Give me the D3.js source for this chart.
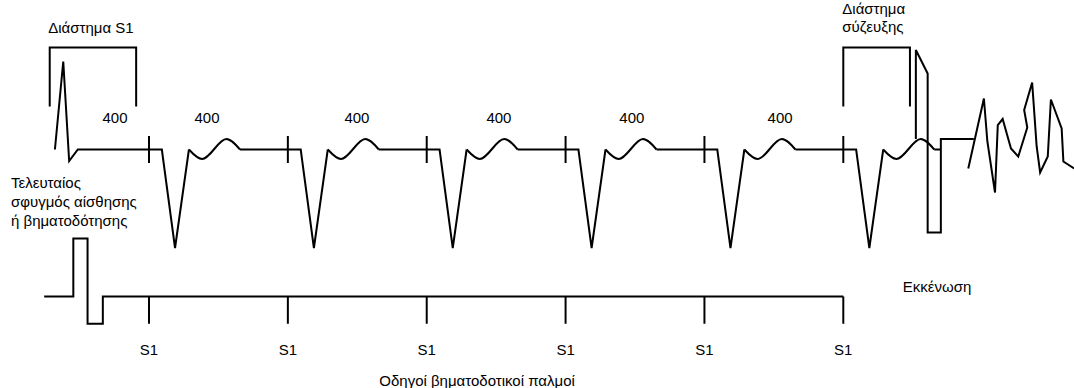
<!DOCTYPE html>
<html>
<head>
<meta charset="utf-8">
<script src="https://cdn.jsdelivr.net/npm/d3@7"></script>
<style>
  html, body { margin: 0; padding: 0; background: #fff; }
  svg { display: block; }
  text { font-family: "Liberation Sans", Arial, Helvetica, sans-serif; font-size: 15px; fill: #000; }
</style>
</head>
<body>
<svg id="chart" width="1074" height="388"></svg>
<script>
// ---------------- data (time in ms from first S1, amplitude in arbitrary units) ----------------
const s1Times = [0, 400, 800, 1200, 1600, 2000];
const s1Labels = ["S1", "S1", "S1", "S1", "S1", "S1"];
const intervalLabels = ["400", "400", "400", "400", "400", "400"];
const intervalLabelTimes = [-98, 167, 599, 1008, 1391, 1818];

// last sensed / paced beat (time, amplitude)
const lastBeat = [[-271, 0], [-247, 0.88], [-230, -0.115], [-205, 0]];
// paced QRS (offset from S1, amplitude)
const pacedQRS = [[37, 0], [75, -0.985], [115, 0]];
// T wave (offset from S1, amplitude)
const tWave = [[115, 0], [153, -0.095], [223, 0.105], [262, 0]];
// shock discharge on ECG
const shock = [[2209, 0.105], [2209, 0.995], [2243, 0.76], [2243, -0.83], [2281, -0.83], [2281, 0.105], [2376, 0.105]];
// induced fibrillation
const fibrillation = [[2360, -0.19], [2405, 0.51], [2415, 0.08], [2437, -0.43], [2445, 0.245], [2459, 0.305],
  [2483, 0.01], [2504, -0.07], [2530, 0.22], [2521, 0.395], [2544, 0.67], [2557, 0.03], [2567, -0.23],
  [2589, -0.07], [2598, 0.50], [2629, 0.21], [2634, -0.12], [2665, -0.19]];
// pacing channel (time, level)
const pacingChannel = [[-302, 0], [-218, 0], [-218, 1], [-177, 1], [-177, -0.47], [-133, -0.47], [-133, 0], [2000, 0]];
const pacingTickDepth = -0.47;
// brackets (start, end)
const s1Bracket = [-286, -37];
const couplingBracket = [2000, 2192];

// ---------------- drawing ----------------
const svg = d3.select("#chart");
const x = d3.scaleLinear().domain([0, 2000]).range([149, 843.3]);
const yTop = d3.scaleLinear().domain([-1, 1]).range([249.5, 49.5]);
const yBot = d3.scaleLinear().domain([0, 1]).range([296.5, 238.5]);

const lineTop = d3.line().x(d => x(d[0])).y(d => yTop(d[1]));
const smoothTop = d3.line().x(d => x(d[0])).y(d => yTop(d[1])).curve(d3.curveMonotoneX);
const lineBot = d3.line().x(d => x(d[0])).y(d => yBot(d[1]));

const g = svg.append("g")
  .attr("fill", "none").attr("stroke", "#000").attr("stroke-width", 2)
  .attr("stroke-linejoin", "miter");

// ECG linear segments (baseline + QRS) and T waves
let prevEnd = null;
s1Times.forEach((s, i) => {
  let seg = [];
  if (i === 0) seg = lastBeat.slice();
  else seg.push([prevEnd, 0]);
  seg.push([s, 0]);
  pacedQRS.forEach(p => seg.push([s + p[0], p[1]]));
  g.append("path").attr("d", lineTop(seg));
  g.append("path").attr("d", smoothTop(tWave.map(p => [s + p[0], p[1]])));
  prevEnd = s + tWave[tWave.length - 1][0];
});
// tail to shock
g.append("path").attr("d", lineTop([[prevEnd, 0], [shock[4][0], 0]]));

// S1 ticks on ECG
g.selectAll(".tickTop").data(s1Times).enter().append("line")
  .attr("x1", d => x(d)).attr("x2", d => x(d))
  .attr("y1", yTop(0.135)).attr("y2", yTop(-0.135));

// shock + fibrillation
g.append("path").attr("d", lineTop(shock));
g.append("path").attr("d", lineTop(fibrillation));

// brackets
[s1Bracket, couplingBracket].forEach(b => {
  g.append("path").attr("d", lineTop([[b[0], 0.43], [b[0], 1.02], [b[1], 1.02], [b[1], 0.43]]));
});

// pacing channel
g.append("path").attr("d", lineBot(pacingChannel));
g.selectAll(".tickBot").data(s1Times).enter().append("line")
  .attr("x1", d => x(d)).attr("x2", d => x(d))
  .attr("y1", yBot(0)).attr("y2", yBot(pacingTickDepth));

// ---------------- text ----------------
const t = svg.append("g");
t.append("text").attr("x", x((s1Bracket[0] + s1Bracket[1]) / 2) - 2).attr("y", 33)
  .attr("text-anchor", "middle").text("Διάστημα S1");
t.selectAll(".lbl400").data(intervalLabels).enter().append("text")
  .attr("x", (d, i) => x(intervalLabelTimes[i])).attr("y", 123)
  .attr("text-anchor", "middle").text(d => d);
const left = t.append("text").attr("x", 11).attr("y", 188);
["Τελευταίος", "σφυγμός αίσθησης", "ή βηματοδότησης"].forEach((s, i) => {
  left.append("tspan").attr("x", 11).attr("dy", i === 0 ? 0 : 19).text(s);
});
const cpl = t.append("text").attr("x", x(couplingBracket[0]) - 1).attr("y", 14);
["Διάστημα", "σύζευξης"].forEach((s, i) => {
  cpl.append("tspan").attr("x", x(couplingBracket[0]) - 1).attr("dy", i === 0 ? 0 : 18).text(s);
});
t.selectAll(".s1").data(s1Labels).enter().append("text")
  .attr("x", (d, i) => x(s1Times[i])).attr("y", 355)
  .attr("text-anchor", "middle").text(d => d);
t.append("text").attr("x", x(945)).attr("y", 386).attr("text-anchor", "middle")
  .text("Οδηγοί βηματοδοτικοί παλμοί");
t.append("text").attr("x", x(2270)).attr("y", 292).attr("text-anchor", "middle")
  .text("Εκκένωση");
</script>
</body>
</html>
